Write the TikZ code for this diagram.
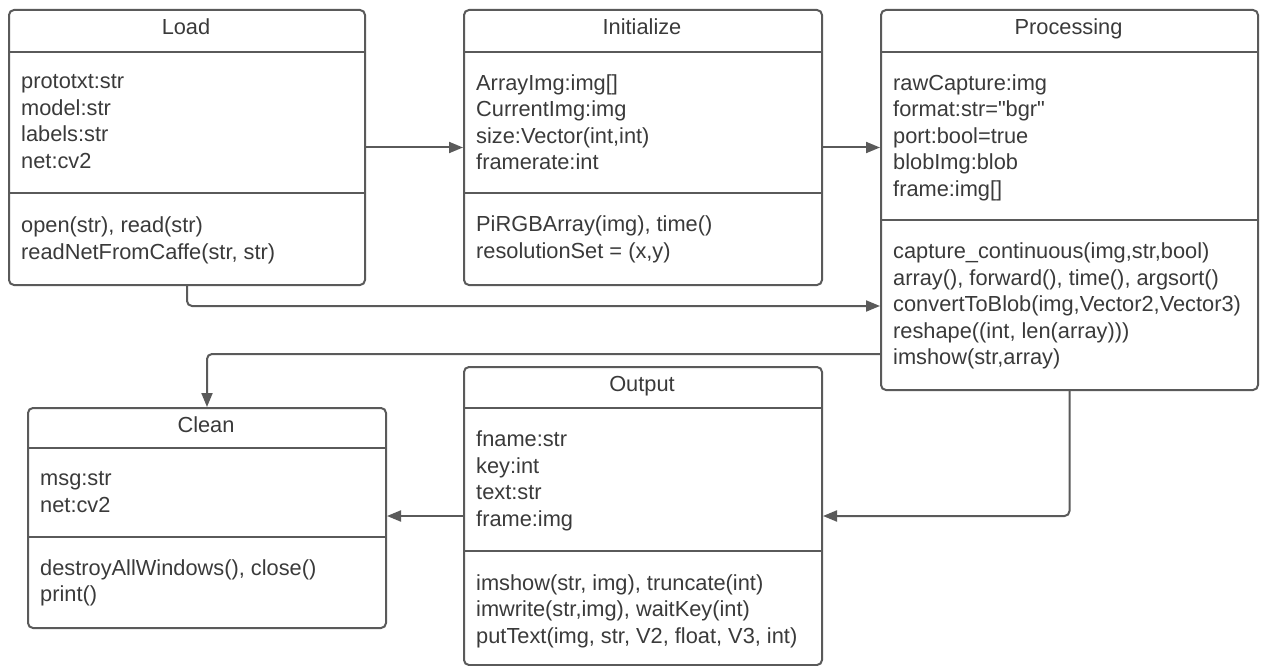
\documentclass[tikz,border=0pt]{standalone}
\usepackage{fontspec}
\setmainfont{Liberation Sans}[Ligatures=TeXOff]
\usetikzlibrary{arrows.meta}
\definecolor{linegray}{HTML}{5A5A5A}
\definecolor{txtgray}{HTML}{3A3A3A}
\tikzset{
	cls/.style={draw=linegray, line width=2pt, rounded corners=5pt,
				anchor=north west, inner sep=0pt},
	ttl/.style={anchor=base, text=txtgray, inner sep=0pt},
	body/.style={anchor=north west, align=left, text=txtgray,
				 inner sep=0pt, execute at begin node=\strut},
	sep/.style={draw=linegray, line width=2pt},
	link/.style={draw=linegray, line width=2pt, rounded corners=5pt,
				 -{Triangle[length=14pt,width=11pt]}}
}
\begin{document}
\begin{tikzpicture}[x=1pt, y=-1pt, font=\fontsize{21.8}{26.5}\selectfont]
	\useasboundingbox (0,0) rectangle (1264,666);

	% Load
	\draw (8,9) node[cls, minimum width=356pt, minimum height=275pt](load){};
	\draw (186,35) node[ttl](loadT){Load};
	\draw [sep](load.west |- 0,52) -- (load.east |- 0,52);
	\draw [sep](load.west |- 0,193) -- (load.east |- 0,193);
	\draw (21,74.5) node[body](loadA){prototxt:str\\model:str\\labels:str\\net:cv2};
	\draw (21,217) node[body](loadM){open(str), read(str)\\readNetFromCaffe(str, str)};

	% Initialize
	\draw (463,9) node[cls, minimum width=358pt, minimum height=275pt](init){};
	\draw (642,35) node[ttl](initT){Initialize};
	\draw [sep](init.west |- 0,52) -- (init.east |- 0,52);
	\draw [sep](init.west |- 0,193) -- (init.east |- 0,193);
	\draw (476,74.5) node[body](initA){ArrayImg:img[]\\CurrentImg:img\\size:Vector(int,int)\\framerate:int};
	\draw (476,216) node[body](initM){PiRGBArray(img), time()\\resolutionSet = (x,y)};

	% Processing
	\draw (880,9) node[cls, minimum width=377pt, minimum height=380pt](proc){};
	\draw (1068.5,35) node[ttl](procT){Processing};
	\draw [sep](proc.west |- 0,52) -- (proc.east |- 0,52);
	\draw [sep](proc.west |- 0,220) -- (proc.east |- 0,220);
	\draw (893,74.5) node[body](procA){rawCapture:img\\format:str="bgr"\\port:bool=true\\blobImg:blob\\frame:img[]};
	\draw (893,243) node[body](procM){capture\_continuous(img,str,bool)\\array(), forward(), time(), argsort()\\convertToBlob(img,Vector2,Vector3)\\reshape((int, len(array)))\\imshow(str,array)};

	% Clean
	\draw (27,407) node[cls, minimum width=358pt, minimum height=220pt](clean){};
	\draw (206,432) node[ttl](cleanT){Clean};
	\draw [sep](clean.west |- 0,448) -- (clean.east |- 0,448);
	\draw [sep](clean.west |- 0,537) -- (clean.east |- 0,537);
	\draw (40,471.5) node[body](cleanA){msg:str\\net:cv2};
	\draw (40,559) node[body](cleanM){destroyAllWindows(), close()\\print()};

	% Output
	\draw (463,366) node[cls, minimum width=358pt, minimum height=298pt](out){};
	\draw (642,391) node[ttl](outT){Output};
	\draw [sep](out.west |- 0,408) -- (out.east |- 0,408);
	\draw [sep](out.west |- 0,551) -- (out.east |- 0,551);
	\draw (476,431) node[body](outA){fname:str\\key:int\\text:str\\frame:img};
	\draw (476,574) node[body](outM){imshow(str, img), truncate(int)\\imwrite(str,img), waitKey(int)\\putText(img, str, V2, float, V3, int)};

	\draw [link](load.east) -- (init.west);
	\draw [link](init.east) -- (init.east -| proc.west);
	\draw [link](load.south) |- (proc.west |- 0,306);
	\draw [link](proc.west |- 0,354) -| (clean.north);
	\draw [link](proc.south) |- (out.east);
	\draw [link](out.west) -- (out.west -| clean.east);
\end{tikzpicture}
\end{document}
